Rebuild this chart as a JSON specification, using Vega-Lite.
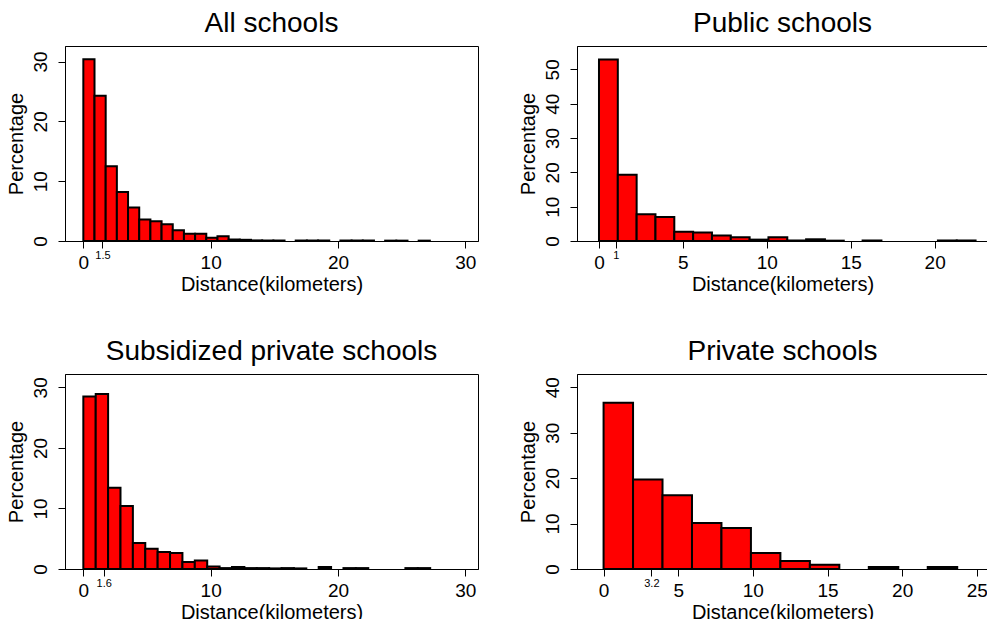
{
  "$schema": "https://vega.github.io/schema/vega-lite/v6.json",
  "background": "white",
  "padding": {"left": 5, "top": 9, "right": 0, "bottom": 0},
  "config": {
    "font": "Liberation Sans",
    "view": {"stroke": "black", "strokeWidth": 1},
    "axis": {
      "grid": false, "domainColor": "black", "domainWidth": 1, "tickColor": "black", "tickSize": 7, "tickWidth": 1,
      "labelColor": "black", "titleColor": "black", "labelFont": "Liberation Sans", "titleFont": "Liberation Sans",
      "titleFontWeight": "normal", "titleFontSize": 20, "labelFontSize": 19, "labelOverlap": false, "labelFlush": false
    },
    "axisY": {"titlePadding": 5},
    "axisX": {"titlePadding": 2},
    "title": {"fontSize": 28, "fontWeight": "normal", "font": "Liberation Sans", "color": "black", "anchor": "middle", "frame": "group", "baseline": "alphabetic", "offset": 8}
  },
  "bounds": "flush",
  "columns": 2,
  "spacing": {"row": 133, "column": 99},
  "datasets": {
    "all": [
      {"start": 0, "end": 0.878, "pct": 30.4},
      {"start": 0.878, "end": 1.756, "pct": 24.3},
      {"start": 1.756, "end": 2.634, "pct": 12.5},
      {"start": 2.634, "end": 3.512, "pct": 8.2},
      {"start": 3.512, "end": 4.39, "pct": 5.6},
      {"start": 4.39, "end": 5.268, "pct": 3.6},
      {"start": 5.268, "end": 6.146, "pct": 3.3},
      {"start": 6.146, "end": 7.024, "pct": 2.8},
      {"start": 7.024, "end": 7.902, "pct": 1.8},
      {"start": 7.902, "end": 8.78, "pct": 1.2},
      {"start": 8.78, "end": 9.658, "pct": 1.2},
      {"start": 9.658, "end": 10.536, "pct": 0.55},
      {"start": 10.536, "end": 11.414, "pct": 0.8},
      {"start": 11.414, "end": 12.292, "pct": 0.25},
      {"start": 12.292, "end": 13.17, "pct": 0.2},
      {"start": 13.17, "end": 14.048, "pct": 0.1},
      {"start": 14.048, "end": 14.926, "pct": 0.08},
      {"start": 14.926, "end": 15.804, "pct": 0.08},
      {"start": 16.682, "end": 17.56, "pct": 0.08},
      {"start": 17.56, "end": 18.438, "pct": 0.08},
      {"start": 18.438, "end": 19.316, "pct": 0.08},
      {"start": 20.194, "end": 21.072, "pct": 0.08},
      {"start": 21.072, "end": 21.95, "pct": 0.08},
      {"start": 21.95, "end": 22.828, "pct": 0.08},
      {"start": 23.706, "end": 24.584, "pct": 0.06},
      {"start": 24.584, "end": 25.462, "pct": 0.06},
      {"start": 26.34, "end": 27.218, "pct": 0.06}
    ],
    "pub": [
      {"start": 0, "end": 1.122, "pct": 52.9},
      {"start": 1.122, "end": 2.244, "pct": 19.3},
      {"start": 2.244, "end": 3.366, "pct": 7.8},
      {"start": 3.366, "end": 4.488, "pct": 7.0},
      {"start": 4.488, "end": 5.61, "pct": 2.7},
      {"start": 5.61, "end": 6.732, "pct": 2.5},
      {"start": 6.732, "end": 7.854, "pct": 1.6},
      {"start": 7.854, "end": 8.976, "pct": 1.1},
      {"start": 8.976, "end": 10.098, "pct": 0.4},
      {"start": 10.098, "end": 11.22, "pct": 1.1},
      {"start": 11.22, "end": 12.342, "pct": 0.15},
      {"start": 12.342, "end": 13.464, "pct": 0.5},
      {"start": 13.464, "end": 14.586, "pct": 0.1},
      {"start": 15.708, "end": 16.83, "pct": 0.15},
      {"start": 20.196, "end": 21.318, "pct": 0.15},
      {"start": 21.318, "end": 22.44, "pct": 0.15}
    ],
    "sub": [
      {"start": 0, "end": 0.973, "pct": 28.5},
      {"start": 0.973, "end": 1.946, "pct": 28.9},
      {"start": 1.946, "end": 2.919, "pct": 13.4},
      {"start": 2.919, "end": 3.892, "pct": 10.4},
      {"start": 3.892, "end": 4.865, "pct": 4.3},
      {"start": 4.865, "end": 5.838, "pct": 3.35},
      {"start": 5.838, "end": 6.811, "pct": 2.8},
      {"start": 6.811, "end": 7.784, "pct": 2.65},
      {"start": 7.784, "end": 8.757, "pct": 1.15},
      {"start": 8.757, "end": 9.73, "pct": 1.4},
      {"start": 9.73, "end": 10.703, "pct": 0.4},
      {"start": 10.703, "end": 11.676, "pct": 0.15},
      {"start": 11.676, "end": 12.649, "pct": 0.35},
      {"start": 12.649, "end": 13.622, "pct": 0.15},
      {"start": 13.622, "end": 14.595, "pct": 0.15},
      {"start": 14.595, "end": 15.568, "pct": 0.1},
      {"start": 15.568, "end": 16.541, "pct": 0.15},
      {"start": 16.541, "end": 17.514, "pct": 0.1},
      {"start": 18.487, "end": 19.46, "pct": 0.35},
      {"start": 20.433, "end": 21.406, "pct": 0.15},
      {"start": 21.406, "end": 22.379, "pct": 0.15},
      {"start": 25.298, "end": 26.271, "pct": 0.15},
      {"start": 26.271, "end": 27.244, "pct": 0.15}
    ],
    "priv": [
      {"start": 0, "end": 1.974, "pct": 36.6},
      {"start": 1.974, "end": 3.948, "pct": 19.7},
      {"start": 3.948, "end": 5.922, "pct": 16.2},
      {"start": 5.922, "end": 7.896, "pct": 10.1},
      {"start": 7.896, "end": 9.87, "pct": 9.0},
      {"start": 9.87, "end": 11.844, "pct": 3.5},
      {"start": 11.844, "end": 13.818, "pct": 1.75},
      {"start": 13.818, "end": 15.792, "pct": 0.95},
      {"start": 17.766, "end": 19.74, "pct": 0.45},
      {"start": 21.714, "end": 23.688, "pct": 0.45}
    ]
  },
  "concat": [
    {
      "title": "All schools",
      "width": 413, "height": 195,
      "data": {"name": "all"},
      "mark": {"type": "bar", "fill": "#ff0000", "stroke": "#000000", "strokeWidth": 2},
      "encoding": {
        "x": {"field": "start", "type": "quantitative", "scale": {"domain": [-1.44, 31.0], "nice": false, "zero": false},
          "axis": {"title": "Distance(kilometers)", "values": [0, 1.5, 10, 20, 30], "format": "~g",
            "labelFontSize": {"condition": {"test": "datum.value % 5 !== 0", "value": 11}, "value": 19},
            "labelPadding": {"condition": {"test": "datum.value % 5 !== 0", "value": 1}, "value": 5}}},
        "x2": {"field": "end"},
        "y": {"field": "pct", "type": "quantitative", "scale": {"domain": [0, 32.6], "nice": false},
          "axis": {"title": "Percentage", "values": [0, 10, 20, 30], "labelAngle": -90, "labelAlign": "center", "labelBaseline": "alphabetic", "labelPadding": 12}},
        "y2": {"datum": 0}
      }
    },
    {
      "title": "Public schools",
      "width": 411, "height": 195,
      "data": {"name": "pub"},
      "mark": {"type": "bar", "fill": "#ff0000", "stroke": "#000000", "strokeWidth": 2},
      "encoding": {
        "x": {"field": "start", "type": "quantitative", "scale": {"domain": [-1.31, 23.18], "nice": false, "zero": false},
          "axis": {"title": "Distance(kilometers)", "values": [0, 1, 5, 10, 15, 20], "format": "~g",
            "labelFontSize": {"condition": {"test": "datum.value % 5 !== 0", "value": 11}, "value": 19},
            "labelPadding": {"condition": {"test": "datum.value % 5 !== 0", "value": 1}, "value": 5}}},
        "x2": {"field": "end"},
        "y": {"field": "pct", "type": "quantitative", "scale": {"domain": [0, 56.8], "nice": false},
          "axis": {"title": "Percentage", "values": [0, 10, 20, 30, 40, 50], "labelAngle": -90, "labelAlign": "center", "labelBaseline": "alphabetic", "labelPadding": 12}},
        "y2": {"datum": 0}
      }
    },
    {
      "title": "Subsidized private schools",
      "width": 413, "height": 195,
      "data": {"name": "sub"},
      "mark": {"type": "bar", "fill": "#ff0000", "stroke": "#000000", "strokeWidth": 2},
      "encoding": {
        "x": {"field": "start", "type": "quantitative", "scale": {"domain": [-1.44, 31.0], "nice": false, "zero": false},
          "axis": {"title": "Distance(kilometers)", "values": [0, 1.6, 10, 20, 30], "format": "~g",
            "labelFontSize": {"condition": {"test": "datum.value % 5 !== 0", "value": 11}, "value": 19},
            "labelPadding": {"condition": {"test": "datum.value % 5 !== 0", "value": 1}, "value": 5}}},
        "x2": {"field": "end"},
        "y": {"field": "pct", "type": "quantitative", "scale": {"domain": [0, 32.2], "nice": false},
          "axis": {"title": "Percentage", "values": [0, 10, 20, 30], "labelAngle": -90, "labelAlign": "center", "labelBaseline": "alphabetic", "labelPadding": 12}},
        "y2": {"datum": 0}
      }
    },
    {
      "title": "Private schools",
      "width": 411, "height": 195,
      "data": {"name": "priv"},
      "mark": {"type": "bar", "fill": "#ff0000", "stroke": "#000000", "strokeWidth": 2},
      "encoding": {
        "x": {"field": "start", "type": "quantitative", "scale": {"domain": [-1.78, 25.75], "nice": false, "zero": false},
          "axis": {"title": "Distance(kilometers)", "values": [0, 3.2, 5, 10, 15, 20, 25], "format": "~g",
            "labelFontSize": {"condition": {"test": "datum.value % 5 !== 0", "value": 11}, "value": 19},
            "labelPadding": {"condition": {"test": "datum.value % 5 !== 0", "value": 1}, "value": 5}}},
        "x2": {"field": "end"},
        "y": {"field": "pct", "type": "quantitative", "scale": {"domain": [0, 42.9], "nice": false},
          "axis": {"title": "Percentage", "values": [0, 10, 20, 30, 40], "labelAngle": -90, "labelAlign": "center", "labelBaseline": "alphabetic", "labelPadding": 12}},
        "y2": {"datum": 0}
      }
    }
  ]
}
